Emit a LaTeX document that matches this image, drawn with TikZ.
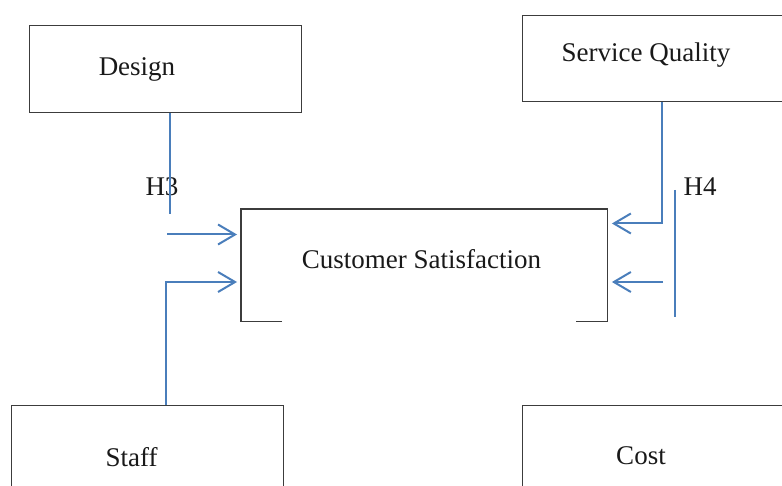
\documentclass[tikz,border=0pt]{standalone}
\usepackage{fontspec}
\setmainfont{Liberation Serif}
\usetikzlibrary{arrows.meta}
\definecolor{linkblue}{RGB}{74,126,187}
\definecolor{framegray}{RGB}{60,60,60}
\begin{document}
\begin{tikzpicture}[x=1pt,y=-1pt,
  frame/.style={draw=framegray,line width=1.2pt,rectangle,inner sep=0pt,anchor=north west},
  caption/.style={font=\fontsize{27}{32}\selectfont,text=black!90,inner sep=0pt,anchor=base},
  link/.style={draw=linkblue,line width=2pt},
  linkarrow/.style={link,-{Straight Barb[length=17pt,width=20pt,line width=2pt]}}]
\path[use as bounding box] (0,0) rectangle (782,486);
\clip (0,0) rectangle (782,486);

% factor boxes
\node[frame,minimum width=272pt,minimum height=87pt] (design) at (29,25) {};
\node[frame,minimum width=300pt,minimum height=86pt] (sq) at (522,15) {};
\node[frame,minimum width=272pt,minimum height=100pt] (staff) at (11,405) {};
\node[frame,minimum width=300pt,minimum height=100pt] (cost) at (522,405) {};

% outcome box, bottom edge left open in the middle
\node[rectangle,inner sep=0pt,minimum width=366pt,minimum height=112pt,anchor=north west] (cs) at (241,209) {};
\draw[draw=framegray,line width=1.2pt] ([xshift=41pt]cs.south west) -- (cs.south west) -- (cs.north west)
  -- (cs.north east) -- (cs.south east) -- ([xshift=-31pt]cs.south east);

% captions
\node[caption] (designtext) at (137,76) {Design};
\node[caption] (sqtext) at (646,62) {Service Quality};
\node[caption] (cstext) at (421.5,269) {Customer Satisfaction};
\node[caption] (stafftext) at (131.5,466) {Staff};
\node[caption] (costtext) at (641,464) {Cost};
\node[caption] (h3) at (162,196) {H3};
\node[caption] (h4) at (700,196) {H4};

% connectors
\coordinate (d1) at (170,214);
\draw[link] (design.south -| d1) -- (d1);
\coordinate (a1) at (167,234.5);
\draw[linkarrow,shorten >=4pt] (a1) -- (a1 -| cs.west);
\coordinate (s1) at (166,282);
\draw[linkarrow,shorten >=4pt] (staff.north -| s1) -- (s1) -- (s1 -| cs.west);
\coordinate (q1) at (661.5,223.5);
\draw[linkarrow,shorten >=4.5pt] (sq.south -| q1) -- (q1) -- (q1 -| cs.east);
\coordinate (a2) at (663,282);
\draw[linkarrow,shorten >=4.5pt] (a2) -- (a2 -| cs.east);
\coordinate (v1) at (675,190);
\coordinate (v2) at (675,317);
\draw[link] (v1) -- (v2);
\end{tikzpicture}
\end{document}
